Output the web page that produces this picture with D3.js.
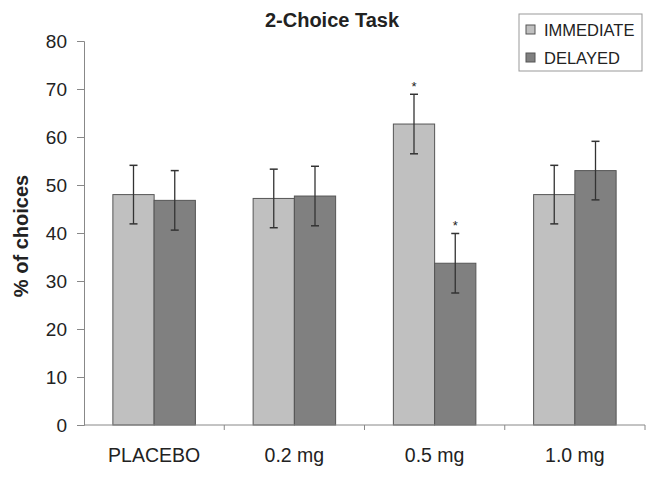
<!DOCTYPE html>
<html><head><meta charset="utf-8">
<script src="https://cdn.jsdelivr.net/npm/d3@7"></script>
<style>body{margin:0;background:#fff}</style>
</head><body>
<script>
const categories = ["PLACEBO", "0.2 mg", "0.5 mg", "1.0 mg"];
const seriesNames = ["IMMEDIATE", "DELAYED"];
const immediate = [48, 47.2, 62.7, 48];
const delayed = [46.8, 47.7, 33.7, 53];
const immediateErr = [6.1, 6.1, 6.2, 6.1];
const delayedErr = [6.2, 6.2, 6.2, 6.1];
const significant = [[false,false],[false,false],[true,true],[false,false]];
const yTicks = [0,10,20,30,40,50,60,70,80];

const W = 658, H = 480;
const m = {left: 84, right: 13, top: 41, bottom: 55};
const colors = ["#c0c0c0", "#808080"];
const FONT = "Arial, 'Liberation Sans', sans-serif";

const svg = d3.select("body").append("svg").attr("width", W).attr("height", H)
  .style("font-family", FONT);

const x = d3.scaleBand().domain(categories).range([m.left, W - m.right]).paddingInner(0).paddingOuter(0);
const x1 = d3.scaleBand().domain(seriesNames).range([0, x.bandwidth()]).paddingInner(0).paddingOuter(0.7);
const y = d3.scaleLinear().domain([0, 80]).range([H - m.bottom, m.top]);

const data = categories.map((c, i) => ({
  cat: c,
  vals: [
    {s: seriesNames[0], v: immediate[i], e: immediateErr[i], sig: significant[i][0], ci: 0},
    {s: seriesNames[1], v: delayed[i], e: delayedErr[i], sig: significant[i][1], ci: 1}
  ]
}));

// bars
const g = svg.append("g");
const groups = g.selectAll("g.grp").data(data).join("g").attr("transform", d => `translate(${x(d.cat)},0)`);
groups.selectAll("rect").data(d => d.vals).join("rect")
  .attr("x", d => x1(d.s)).attr("width", x1.bandwidth())
  .attr("y", d => y(d.v)).attr("height", d => y(0) - y(d.v))
  .attr("fill", d => colors[d.ci]).attr("stroke", "#555").attr("stroke-width", 1);

// error bars
const eb = groups.selectAll("g.eb").data(d => d.vals).join("g").attr("class", "eb");
eb.append("line")
  .attr("x1", d => x1(d.s) + x1.bandwidth()/2).attr("x2", d => x1(d.s) + x1.bandwidth()/2)
  .attr("y1", d => y(d.v + d.e)).attr("y2", d => y(d.v - d.e))
  .attr("stroke", "#333").attr("stroke-width", 1.3);
[1, -1].forEach(sgn => {
  eb.append("line")
    .attr("x1", d => x1(d.s) + x1.bandwidth()/2 - 4).attr("x2", d => x1(d.s) + x1.bandwidth()/2 + 4)
    .attr("y1", d => y(d.v + sgn*d.e)).attr("y2", d => y(d.v + sgn*d.e))
    .attr("stroke", "#333").attr("stroke-width", 1.5);
});
eb.filter(d => d.sig).append("text")
  .attr("x", d => x1(d.s) + x1.bandwidth()/2).attr("y", d => y(d.v + d.e) - 3)
  .attr("text-anchor", "middle").attr("font-size", 13).attr("fill", "#222").text("*");

// y axis
const yAxis = svg.append("g").attr("transform", `translate(${m.left},0)`)
  .call(d3.axisLeft(y).tickValues(yTicks).tickSize(7).tickPadding(10));
yAxis.select(".domain").attr("stroke", "#888");
yAxis.selectAll(".tick line").attr("stroke", "#888");
yAxis.selectAll("text").attr("font-size", 19).attr("fill", "#222").style("font-family", FONT);

// x axis
const xAxisG = svg.append("g").attr("transform", `translate(0,${y(0)})`);
xAxisG.append("line").attr("x1", m.left).attr("x2", W - m.right).attr("stroke", "#888");
xAxisG.selectAll("line.tk").data(categories).join("line").attr("class", "tk")
  .attr("x1", d => x(d) + x.bandwidth()).attr("x2", d => x(d) + x.bandwidth())
  .attr("y1", 0).attr("y2", 5).attr("stroke", "#888");
xAxisG.selectAll("text").data(categories).join("text")
  .attr("x", d => x(d) + x.bandwidth()/2).attr("y", 37)
  .attr("text-anchor", "middle").attr("font-size", 19.5).attr("fill", "#222").text(d => d);

// title
svg.append("text").attr("x", 332).attr("y", 27).attr("text-anchor", "middle")
  .attr("font-size", 20).attr("font-weight", "bold").attr("fill", "#222").text("2-Choice Task");

// y label
svg.append("text").attr("transform", `translate(28,236) rotate(-90)`)
  .attr("text-anchor", "middle").attr("font-size", 20).attr("font-weight", "bold").attr("fill", "#222")
  .text("% of choices");

// legend
const lg = svg.append("g");
lg.append("rect").attr("x", 519).attr("y", 14).attr("width", 123).attr("height", 57)
  .attr("fill", "#fff").attr("stroke", "#999");
seriesNames.forEach((s, i) => {
  lg.append("rect").attr("x", 526).attr("y", 25 + i*28).attr("width", 9).attr("height", 9)
    .attr("fill", colors[i]).attr("stroke", "#555");
  lg.append("text").attr("x", 544).attr("y", 36 + i*28).attr("font-size", 16.5).attr("fill", "#222").text(s);
});
</script>
</body></html>
